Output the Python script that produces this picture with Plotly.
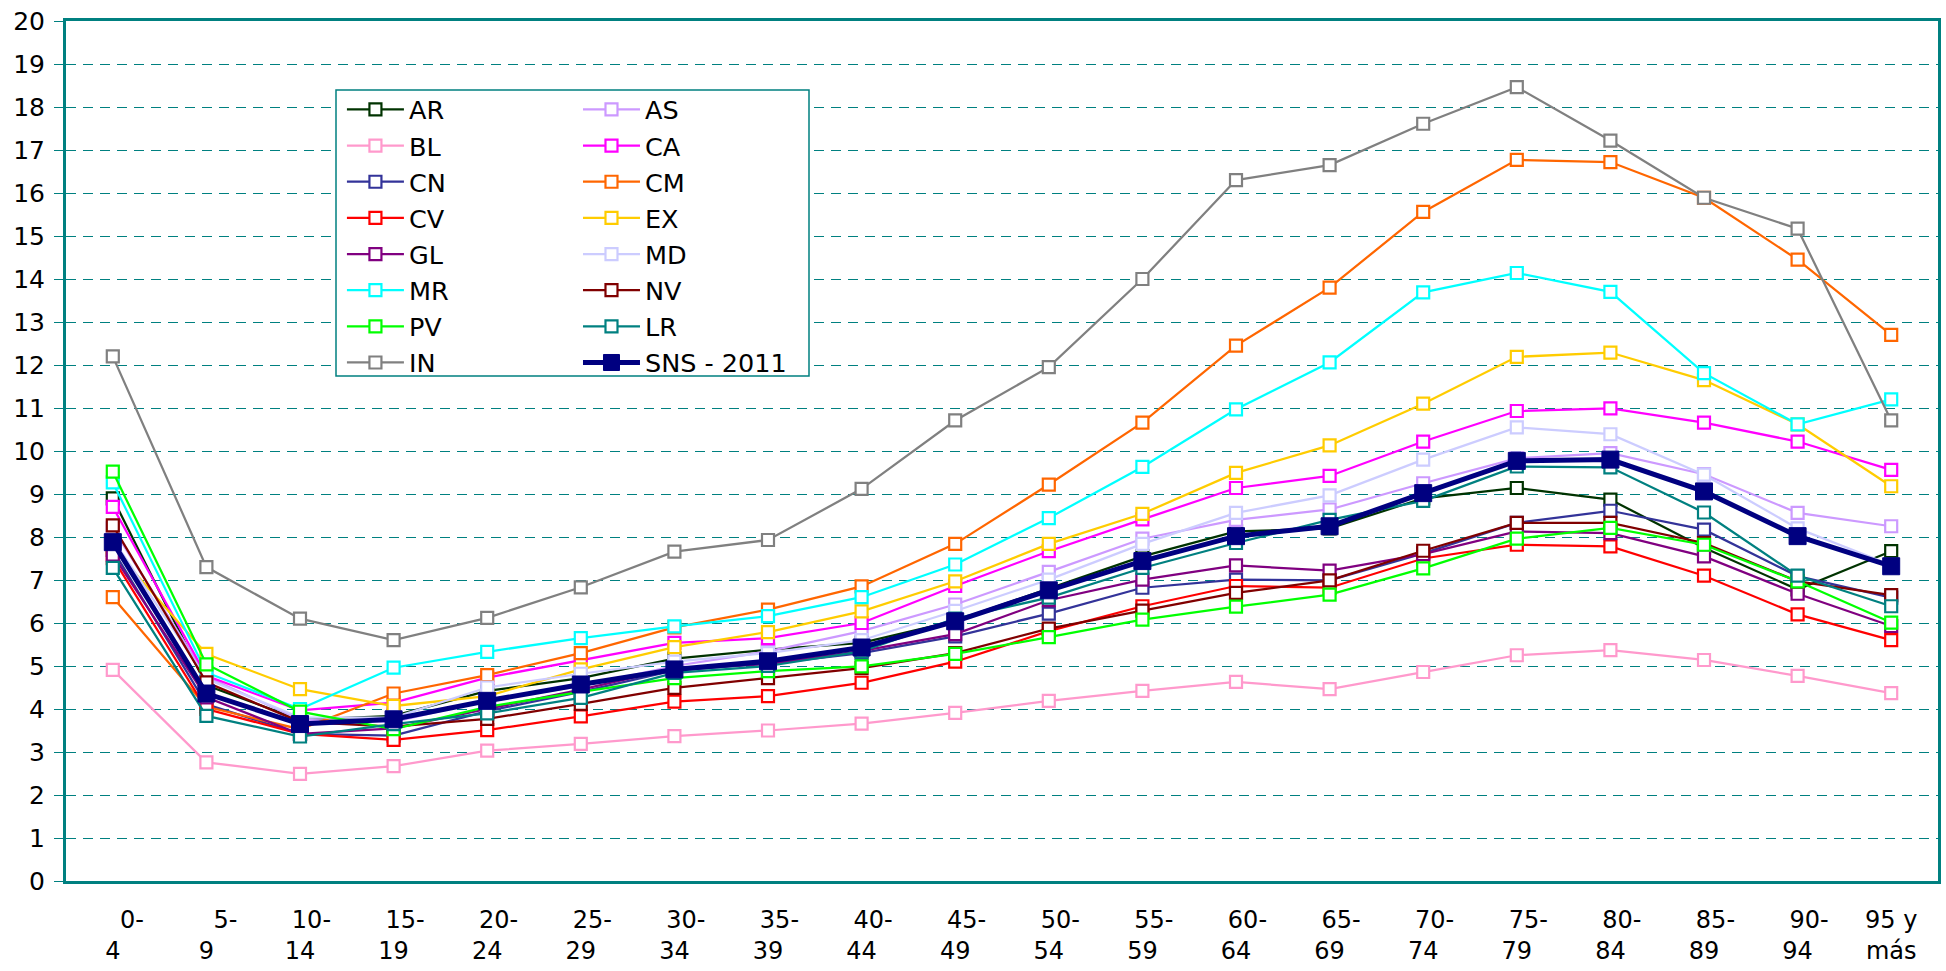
import plotly.graph_objects as go

age_groups = ["0-4", "5-9", "10-14", "15-19", "20-24", "25-29", "30-34", "35-39",
              "40-44", "45-49", "50-54", "55-59", "60-64", "65-69", "70-74", "75-79",
              "80-84", "85-89", "90-94", "95 y más"]

AR = [8.9, 4.55, 3.75, 3.84, 4.42, 4.72, 5.17, 5.38, 5.54, 6.05, 6.8, 7.55, 8.13, 8.2, 8.9, 9.14, 8.87, 7.75, 6.78, 7.67]
AS = [8.2, 4.75, 3.75, 3.7, 4.2, 4.53, 5.0, 5.34, 5.81, 6.43, 7.19, 7.96, 8.4, 8.64, 9.25, 9.83, 9.95, 9.46, 8.56, 8.25]
BL = [4.91, 2.76, 2.49, 2.67, 3.03, 3.19, 3.37, 3.5, 3.66, 3.91, 4.19, 4.42, 4.63, 4.46, 4.86, 5.25, 5.37, 5.14, 4.77, 4.37]
CA = [8.7, 4.77, 3.97, 4.15, 4.73, 5.13, 5.54, 5.65, 6.0, 6.86, 7.67, 8.41, 9.14, 9.42, 10.22, 10.93, 10.99, 10.66, 10.22, 9.56]
CN = [7.7, 4.11, 3.42, 3.38, 3.95, 4.4, 4.9, 5.05, 5.3, 5.69, 6.22, 6.82, 7.01, 6.99, 7.62, 8.33, 8.61, 8.17, 7.09, 6.59]
CM = [6.6, 4.05, 3.53, 4.36, 4.79, 5.3, 5.9, 6.31, 6.85, 7.84, 9.22, 10.66, 12.45, 13.8, 15.56, 16.77, 16.72, 15.89, 14.45, 12.7]
CV = [7.51, 4.0, 3.42, 3.28, 3.51, 3.83, 4.17, 4.3, 4.61, 5.1, 5.81, 6.39, 6.86, 6.82, 7.5, 7.82, 7.78, 7.1, 6.2, 5.6]
EX = [7.75, 5.28, 4.46, 4.07, 4.3, 4.92, 5.44, 5.79, 6.27, 6.97, 7.84, 8.54, 9.49, 10.13, 11.1, 12.19, 12.29, 11.65, 10.62, 9.18]
GL = [7.59, 4.27, 3.42, 3.55, 4.0, 4.45, 4.95, 5.05, 5.35, 5.74, 6.53, 7.01, 7.34, 7.22, 7.6, 8.13, 8.09, 7.55, 6.68, 5.93]
MD = [7.95, 4.7, 3.8, 3.8, 4.5, 4.82, 5.1, 5.3, 5.6, 6.28, 7.01, 7.84, 8.56, 8.97, 9.8, 10.55, 10.39, 9.45, 8.2, 7.35]
MR = [9.27, 4.85, 4.0, 4.96, 5.33, 5.65, 5.92, 6.16, 6.6, 7.36, 8.44, 9.63, 10.97, 12.06, 13.69, 14.14, 13.70, 11.81, 10.62, 11.2]
NV = [8.27, 4.62, 3.7, 3.59, 3.77, 4.12, 4.49, 4.72, 4.95, 5.3, 5.87, 6.29, 6.7, 6.99, 7.68, 8.33, 8.33, 7.86, 6.97, 6.65]
PV = [9.52, 5.04, 3.94, 3.53, 4.05, 4.4, 4.72, 4.88, 4.99, 5.28, 5.67, 6.08, 6.38, 6.66, 7.27, 7.96, 8.21, 7.82, 6.97, 6.01]
LR = [7.28, 3.84, 3.36, 3.65, 3.9, 4.26, 4.84, 5.0, 5.34, 6.1, 6.59, 7.28, 7.86, 8.4, 8.84, 9.64, 9.62, 8.57, 7.1, 6.39]
IN = [12.2, 7.3, 6.1, 5.6, 6.12, 6.83, 7.66, 7.93, 9.12, 10.71, 11.95, 14.0, 16.3, 16.65, 17.61, 18.46, 17.22, 15.89, 15.17, 10.71]
SNS = [7.88, 4.36, 3.65, 3.76, 4.19, 4.57, 4.92, 5.11, 5.43, 6.04, 6.76, 7.44, 8.02, 8.25, 9.02, 9.77, 9.8, 9.06, 8.02, 7.32]

series = [
    ("AR", AR, "#003300", "legend"),
    ("AS", AS, "#CC99FF", "legend2"),
    ("BL", BL, "#FF99CC", "legend"),
    ("CA", CA, "#FF00FF", "legend2"),
    ("CN", CN, "#333399", "legend"),
    ("CM", CM, "#FF6600", "legend2"),
    ("CV", CV, "#FF0000", "legend"),
    ("EX", EX, "#FFCC00", "legend2"),
    ("GL", GL, "#800080", "legend"),
    ("MD", MD, "#CCCCFF", "legend2"),
    ("MR", MR, "#00FFFF", "legend"),
    ("NV", NV, "#800000", "legend2"),
    ("PV", PV, "#00FF00", "legend"),
    ("LR", LR, "#008080", "legend2"),
    ("IN", IN, "#808080", "legend"),
]


def tick_label(g):
    # wrapped two-line label as in the original ("0-" / "4", "95 y" / "más")
    if "-" in g:
        a, b = g.split("-")
        pad = "\u00a0" * max(0, 7 - 2 * len(a))
        return pad + a + "-<br>" + b
    first, second = g.rsplit(" ", 1)
    return first + "<br>" + second


tick_text = [tick_label(g) for g in age_groups]

fig = go.Figure()
for name, vals, color, lg in series:
    fig.add_trace(go.Scatter(
        x=age_groups, y=vals, name=name, mode="lines+markers",
        line=dict(color=color, width=2.25),
        marker=dict(symbol="square", size=12, color="white",
                    line=dict(color=color, width=2.2)),
        legend=lg,
    ))
fig.add_trace(go.Scatter(
    x=age_groups, y=SNS, name="SNS - 2011", mode="lines+markers",
    line=dict(color="#000080", width=5),
    marker=dict(symbol="square", size=17, color="#000080",
                line=dict(color="#000080", width=1)),
    legend="legend2",
))

teal = "#008080"
FONT = "DejaVu Sans"

leg_common = dict(
    bgcolor="rgba(0,0,0,0)", borderwidth=0,
    font=dict(family=FONT, size=25.5, color="black"),
    itemwidth=57, yanchor="top", xanchor="left",
    tracegroupgap=0, orientation="v",
)

fig.update_layout(
    width=1946, height=971,
    margin=dict(l=66, r=8, t=21, b=90, autoexpand=False),
    paper_bgcolor="white", plot_bgcolor="white",
    font=dict(family=FONT, size=25, color="black"),
    showlegend=True,
    legend=dict(x=0.1474, y=0.924, **leg_common),
    legend2=dict(x=0.2735, y=0.924, **leg_common),
    xaxis=dict(
        type="category", range=[-0.5, 19.5], automargin=False,
        tickmode="array", tickvals=age_groups, ticktext=tick_text,
        showgrid=False, showline=True, linecolor=teal, linewidth=3,
        mirror=True, ticks="", tickfont=dict(family=FONT, size=24, color="black"),
        ticklabelstandoff=15, zeroline=False,
    ),
    yaxis=dict(
        range=[0, 20], dtick=1, tick0=0, automargin=False,
        showgrid=True, gridcolor=teal, griddash="10px,7px", gridwidth=1,
        showline=True, linecolor=teal, linewidth=3, mirror=True,
        ticks="outside", ticklen=9, tickcolor=teal, tickwidth=1,
        tickfont=dict(family=FONT, size=25, color="black"),
        ticklabelstandoff=4, zeroline=False,
    ),
    shapes=[dict(
        type="rect", xref="paper", yref="paper",
        x0=(336 - 66) / 1872, x1=(809 - 66) / 1872,
        y0=1 - (376 - 21) / 860, y1=1 - (90 - 21) / 860,
        line=dict(color=teal, width=1.5), fillcolor="white", layer="above",
    )],
)

fig.write_html("out.html", config={"displayModeBar": False},
               post_script="document.body.style.margin='0';")
